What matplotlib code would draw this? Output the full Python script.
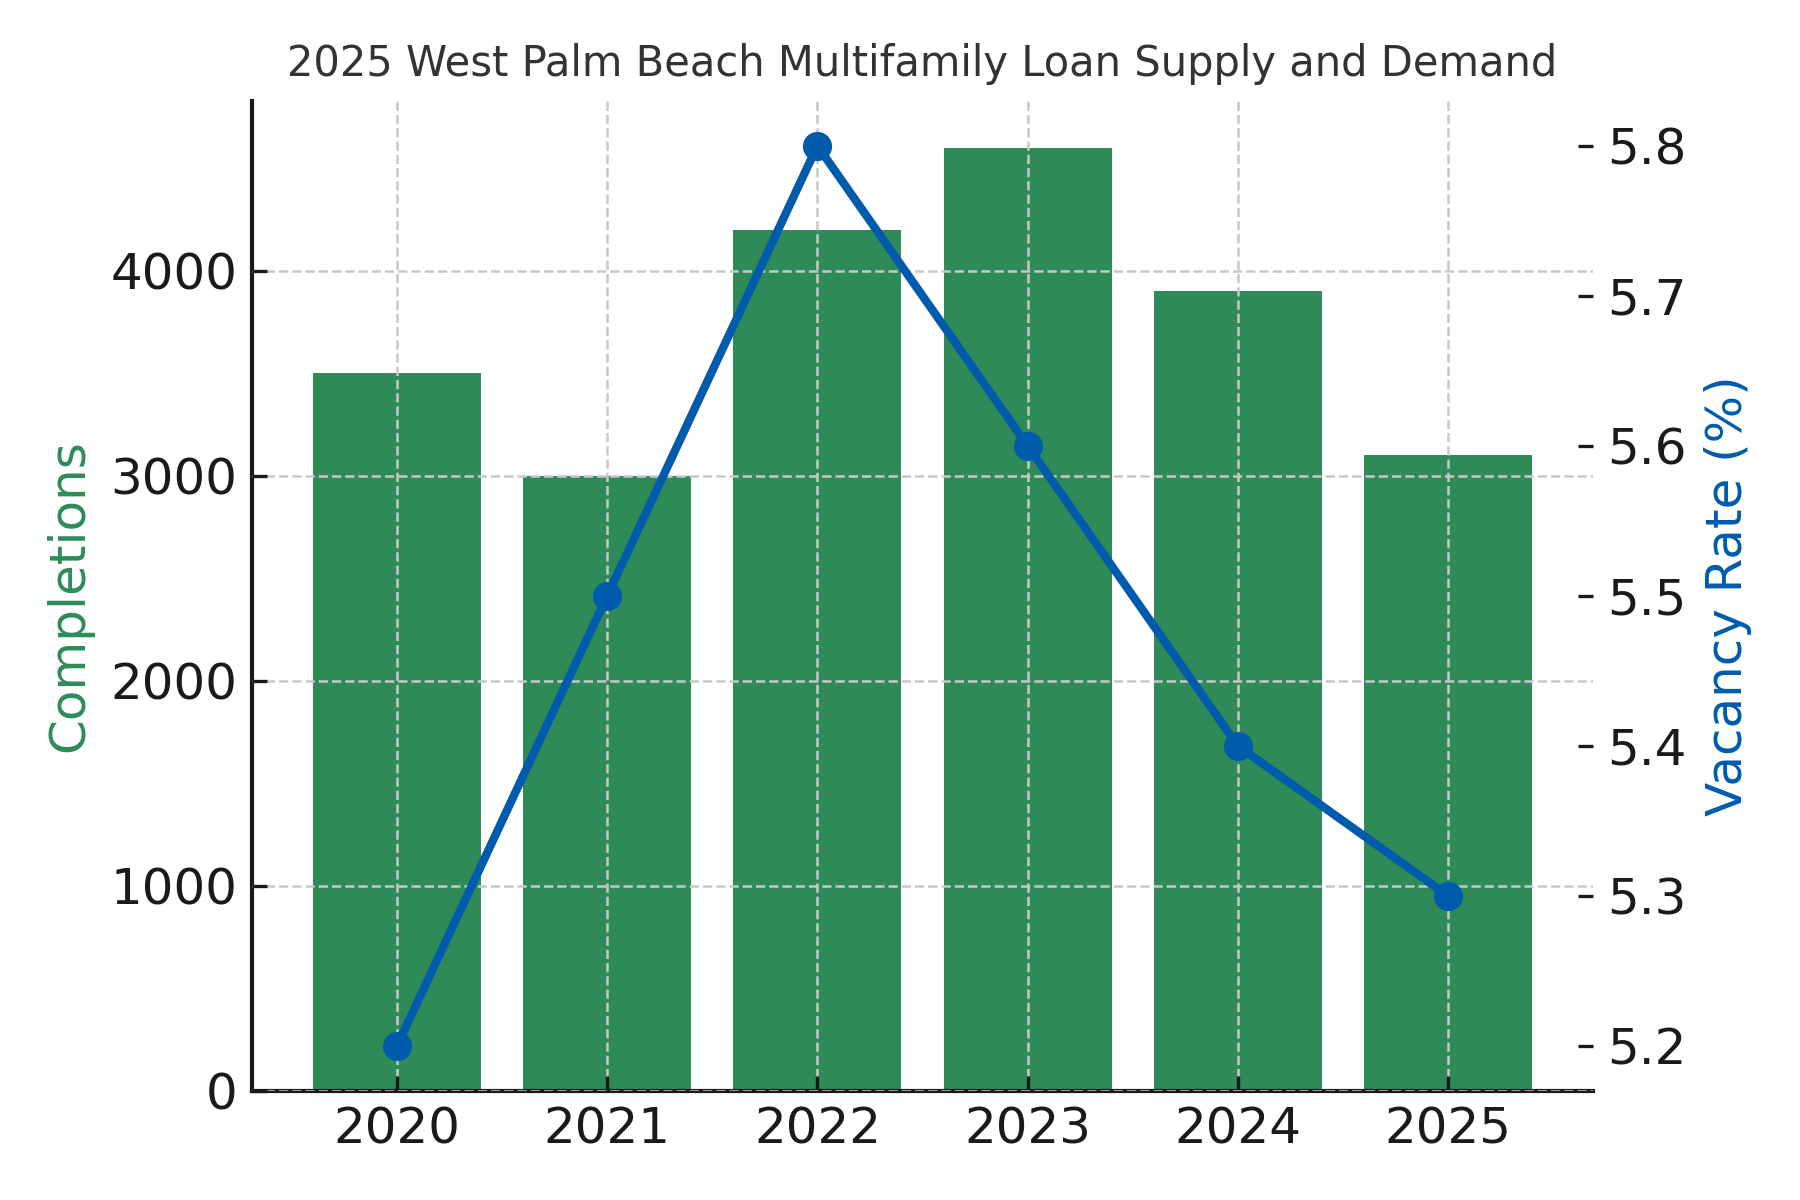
import numpy as np
import matplotlib
matplotlib.use("Agg")
import matplotlib.pyplot as plt

years = ["2020", "2021", "2022", "2023", "2024", "2025"]
completions = [3500, 3000, 4200, 4600, 3900, 3100]
vacancy = [5.2, 5.5, 5.8, 5.6, 5.4, 5.3]

green = "#2e8b57"
blue = "#005bac"

plt.rcParams['font.family'] = ['DejaVu Sans']

fig, ax = plt.subplots(figsize=(6, 4), dpi=300)
fig.subplots_adjust(left=0.14, right=0.885, top=0.916, bottom=0.091)

x = np.arange(len(years))
ax.bar(x, completions, width=0.8, color=green, zorder=1)
ax.set_xticks(x)
ax.set_xticklabels(years)
ax.set_ylabel("Completions", color=green, fontsize=12)
ax.tick_params(axis='both', direction='in', labelsize=12, colors='#1a1a1a')
ax.grid(True, linestyle='--', color='#c8c8c8', linewidth=0.6, zorder=2)
ax.set_axisbelow(False)
for side in ['top', 'right']:
    ax.spines[side].set_visible(False)
for side in ['left', 'bottom']:
    ax.spines[side].set_linewidth(1.0)
    ax.spines[side].set_color('#1a1a1a')

ax2 = ax.twinx()
ax2.plot(x, vacancy, color=blue, marker='o', linewidth=2, markersize=6, zorder=3)
ax2.set_ylabel("Vacancy Rate (%)", color=blue, fontsize=12)
ax2.tick_params(axis='y', direction='in', labelsize=12, colors='#1a1a1a')
for side in ['top', 'right', 'left', 'bottom']:
    ax2.spines[side].set_visible(False)

ax.set_title("2025 West Palm Beach Multifamily Loan Supply and Demand",
             fontsize=10, color='#333333')

fig.savefig("out.png", dpi=300)
